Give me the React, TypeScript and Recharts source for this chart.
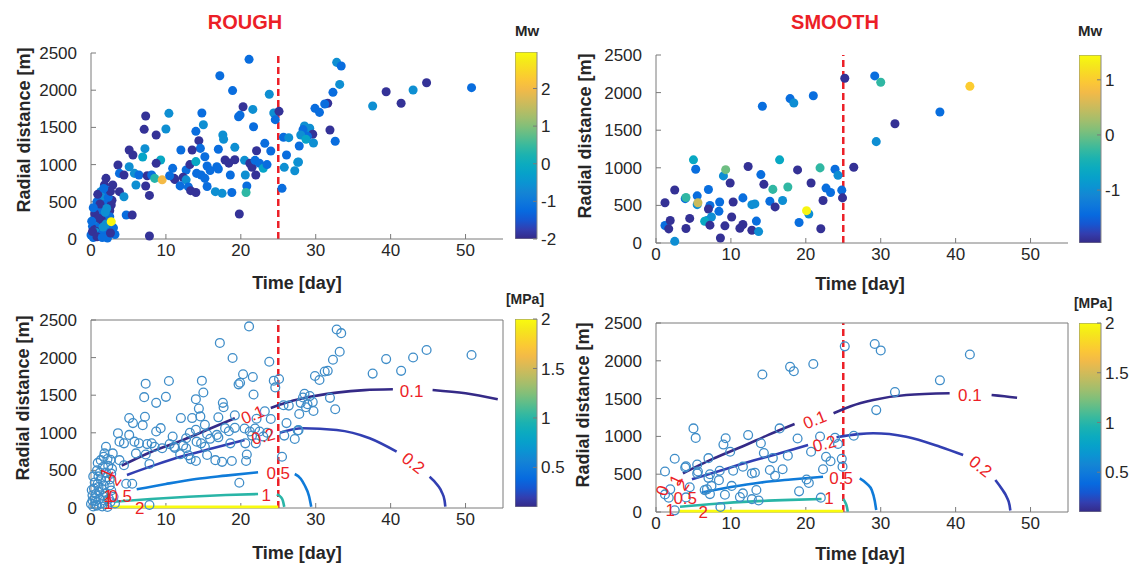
import React from "react";
import { ScatterChart, Scatter, XAxis, YAxis, ZAxis, ReferenceLine, Cell, BarChart, Bar } from "recharts";

const FONT = "'Liberation Sans', Arial, Helvetica, sans-serif";
const TEXT = "#262626";
const AXIS = "#7a7a7a";
const RED = "#ec1f27";
const CIRCLE = "#3f8dc8";

const timeTicks = [0, 10, 20, 30, 40, 50];
const distTicks = [0, 500, 1000, 1500, 2000, 2500];
const injectionStop = 25;

// [time day, radial distance m, Mw]
const roughEvents: [number, number, number][] = [
  [7.3, 1653, -1.9], [10.4, 1689, -0.6], [7.1, 1474, -1.9], [8.7, 1398, -1.9], [10.0, 1478, -0.6],
  [5.1, 1196, -1.9], [5.6, 1129, -1.9], [7.2, 1214, -0.6], [6.9, 1102, -0.2], [12.0, 1196, -1.2],
  [9.3, 1062, -0.1], [8.7, 1017, -1.9], [3.6, 995, -1.9], [5.1, 972, -0.6], [3.8, 882, -1.2],
  [4.4, 860, -1.9], [5.8, 882, -0.6], [6.4, 860, -1.2], [7.5, 850, -1.9], [8.1, 860, -1.2],
  [8.5, 815, 0.3], [9.5, 795, 2.0], [10.9, 950, -1.2], [12.7, 927, -1.2], [11.1, 815, -1.9],
  [12.3, 830, -1.9], [12.7, 795, -0.6], [2.0, 815, -1.9], [2.9, 726, -1.9], [1.8, 726, -1.9],
  [1.3, 636, -0.6], [2.2, 650, -1.2], [3.8, 636, -1.9], [6.0, 726, -0.6], [7.3, 712, -1.9],
  [7.8, 586, -1.9], [4.4, 568, -0.6], [4.7, 323, -1.2], [5.5, 323, -1.9], [1.6, 546, -0.6],
  [2.0, 470, -1.2], [2.7, 457, -1.9], [2.5, 380, -1.9], [1.3, 380, -1.2], [0.9, 323, -1.2],
  [1.7, 300, -1.2], [0.67, 188, -1.2], [0.2, 170, -1.2], [1.1, 121, -1.9], [1.8, 100, -1.2],
  [0.0, 54, -1.2], [0.7, 40, -1.2], [2.2, 13, -1.2], [7.8, 40, -1.9], [0.3, 20, -1.2],
  [0.5, 130, -1.9], [2.4, 121, -1.2], [1.1, 215, -1.2], [0.4, 260, -0.6], [1.0, 420, -1.2],
  [1.5, 250, -1.9], [2.0, 200, -0.6], [0.6, 90, -0.6], [1.4, 60, -1.2], [0.2, 100, -1.9],
  [2.5, 300, -1.2], [1.9, 360, -0.6], [0.8, 500, -1.2], [3.0, 150, -1.2], [2.8, 520, -1.9],
  [0.5, 340, -1.9], [1.2, 470, -1.9], [2.3, 560, -1.2], [0.9, 600, -1.9], [1.6, 160, -0.6],
  [0.3, 420, -1.2], [2.6, 640, -1.9], [1.0, 280, -1.9], [2.1, 410, -0.6], [0.8, 30, -1.9],
  [1.5, 20, -1.2], [3.2, 60, -1.2], [2.6, 80, -1.9], [0.1, 240, -1.2], [1.7, 680, -1.2],
  [2.7, 233, 2.9],
  [11.2, 800, -1.9], [11.9, 714, -1.2], [13.0, 700, -1.2], [13.3, 650, -1.9], [10.5, 850, -1.2],
  [13.2, 1000, -1.9],
  [21.1, 2415, -1.2], [17.2, 2195, -1.2], [18.9, 1995, -1.2], [23.8, 1945, -0.6], [20.3, 1778, -1.9],
  [21.6, 1742, -0.6], [19.7, 1644, -1.2], [19.9, 1665, -1.2], [21.7, 1509, -1.2], [24.4, 1693, -0.6],
  [25.1, 1716, -1.9], [24.6, 1604, -1.2], [14.8, 1693, -1.2], [15.0, 1536, -0.6], [14.0, 1447, -1.2],
  [14.4, 1322, -1.9], [14.6, 1218, -1.2], [13.5, 1196, -1.9], [17.6, 1398, -0.6], [17.7, 1340, -0.6],
  [17.0, 1206, -1.2], [19.2, 1232, -0.6], [22.1, 1187, -1.9], [23.2, 1286, -1.2], [24.0, 1183, -1.2],
  [15.2, 1106, -1.2], [14.0, 1040, -0.1], [15.5, 981, -1.2], [16.8, 972, -1.2], [17.9, 1062, -1.9],
  [18.4, 1020, -1.9], [19.2, 1066, -1.9], [20.5, 1057, -0.6], [21.2, 1017, -1.9], [21.5, 963, -1.9],
  [21.9, 1057, -1.2], [22.5, 1017, -1.2], [23.0, 950, -0.2], [23.5, 1000, -1.2], [14.1, 882, -1.2],
  [14.7, 860, -1.2], [15.2, 815, -1.2], [15.9, 920, -1.2], [17.0, 940, -1.2], [18.6, 860, -1.2],
  [20.6, 860, -0.6], [22.0, 860, -1.9], [15.5, 705, -1.2], [16.6, 636, -0.6], [17.5, 614, -0.6],
  [18.8, 625, -1.2], [20.8, 712, -1.2], [20.7, 625, 0.4], [14.0, 625, -1.9], [19.8, 336, -1.9],
  [25.5, 681, -1.2], [25.7, 1367, -1.2], [26.4, 1362, -0.6], [26.1, 1129, -1.2], [25.8, 963, -0.6],
  [27.2, 918, -0.6], [27.6, 1031, -0.3],
  [32.8, 2374, -0.6], [33.4, 2325, -1.2], [33.2, 2078, -0.6], [32.3, 1971, -1.2], [31.6, 1824, -1.9],
  [31.2, 1815, -1.2], [29.9, 1756, -1.2], [30.5, 1702, -1.2], [37.6, 1787, -0.6], [39.4, 1980, -1.9],
  [41.4, 1824, -1.9], [28.5, 1519, -0.6], [29.2, 1488, -0.6], [28.3, 1470, -1.2], [29.6, 1408, -1.9],
  [28.9, 1380, -1.2], [28.0, 1398, -0.6], [28.7, 1340, -0.2], [29.7, 1290, -0.6], [27.8, 1250, -1.2],
  [31.9, 1465, -1.9], [32.6, 1313, -1.2], [27.7, 1035, -0.6],
  [43.0, 2002, -0.6], [44.8, 2101, -1.9], [50.8, 2034, -1.2],
];

const smoothEvents: [number, number, number][] = [
  [25.2, 2191, -1.9], [14.2, 1819, -1.4], [17.9, 1920, -1.4], [18.4, 1862, -1.0], [21.0, 1958, -1.4],
  [5.0, 1106, -0.65], [5.3, 980, -1.4], [16.5, 1106, -0.65], [12.3, 1017, -1.9], [21.9, 999, -0.3],
  [23.9, 981, -1.4], [24.3, 900, -1.0], [18.9, 972, -1.9], [9.0, 892, -1.0], [9.3, 975, 0.0],
  [9.9, 797, -1.9], [14.0, 910, -1.4], [14.4, 780, -1.9], [15.6, 713, -0.3], [17.6, 745, -0.3],
  [20.7, 797, -1.9], [22.7, 730, -1.4], [23.3, 672, -1.4], [24.8, 703, -1.4], [24.9, 600, -1.9],
  [1.2, 536, -1.9], [2.5, 705, -1.9], [3.9, 590, -1.4], [4.0, 605, -0.3], [5.5, 627, -1.4],
  [5.5, 510, -1.0], [5.6, 536, 0.5], [7.0, 712, -1.4], [7.2, 500, -1.4], [7.0, 452, -1.9],
  [8.5, 546, -1.4], [8.4, 421, -1.4], [10.3, 546, -1.9], [11.6, 600, -1.4], [12.8, 510, -1.0],
  [13.2, 520, -1.0], [15.2, 556, -1.4], [15.9, 480, -1.9], [16.9, 565, -1.0], [20.4, 385, -1.0],
  [20.1, 430, 1.4], [19.1, 273, -1.4], [22.3, 565, -1.9], [22.0, 190, -1.9], [1.2, 233, -1.4],
  [1.7, 188, -1.9], [1.9, 300, -1.9], [2.5, 22, -1.0], [4.0, 193, -1.9], [4.5, 327, -1.9],
  [6.8, 300, -1.0], [7.4, 345, -1.0], [6.5, 290, -0.65], [7.2, 237, -1.9], [9.2, 228, -1.9],
  [8.6, 67, -1.9], [10.1, 345, -1.9], [11.2, 197, -1.9], [11.6, 246, -1.9], [12.8, 170, -1.9],
  [13.4, 291, -1.4], [13.7, 152, -1.0],
  [29.2, 2222, -1.4], [30.0, 2137, -0.3], [41.9, 2083, 1.0], [37.9, 1742, -1.4], [31.9, 1586, -1.9],
  [29.4, 1348, -1.0], [26.4, 1008, -1.9],
];

// colour ranges of the colour bars
const roughMwRange: [number, number] = [-2, 2.97];
const smoothMwRange: [number, number] = [-1.96, 1.45];
const pressureRange: [number, number] = [0.1, 2];
const roughMwTicks = [-2, -1, 0, 1, 2];
const smoothMwTicks = [-1, 0, 1];
const pressureTicks = [0.5, 1, 1.5, 2];

type Seg = [number, number][];

// pressure contour segments [time, distance], rough case
const roughP01: Seg[] = [
  [[4.1, 563], [8, 745], [12.3, 905], [16, 1060], [19.2, 1193]],
  [[24.0, 1330], [26, 1400], [28.3, 1459], [32.8, 1534], [36.5, 1568], [40.3, 1579]],
  [[45.6, 1570], [50, 1525], [54.3, 1446]],
];
const roughP02: Seg[] = [
  [[4.8, 440], [8.5, 570], [12.3, 690], [16.5, 800], [20.5, 904]],
  [[25.2, 1002], [28.3, 1060], [32.8, 1037], [37.2, 927], [40.8, 749]],
  [[45.2, 417], [46.3, 300], [46.8, 217], [47.2, 100], [47.3, 17]],
];
const roughP05: Seg[] = [
  [[6.1, 249], [10, 320], [14, 385], [18, 430], [22.3, 475]],
  [[27.2, 452], [28.0, 390], [28.5, 306], [29.1, 160], [29.4, 17]],
];
const roughP1: Seg[] = [
  [[3.0, 84], [8, 120], [13, 150], [18, 172], [22.3, 186]],
  [[24.8, 180], [25.3, 150], [25.6, 100], [25.8, 15]],
];
const roughP2: Seg[] = [[[2.8, 15], [10, 15], [18, 15], [25, 15]]];

// [time, distance, text, angle]
const roughLabels: [number, number, string, number][] = [
  [21.6, 1237, "0.1", -22], [23.0, 948, "0.2", -15], [25.0, 461, "0.5", 0], [23.4, 160, "1", 0],
  [42.8, 1550, "0.1", 0], [43.0, 594, "0.2", 38], [6.5, 0, "2", 0],
  [2.1, 465, "1", -65], [3.2, 372, "2", -55], [2.3, 150, "1", 0], [3.9, 150, "0.5", 0], [2.3, 60, "1", 0],
];

// smooth case
const smoothP01: Seg[] = [
  [[3.6, 512], [7.5, 700], [11.6, 870], [15, 1020], [18.5, 1164]],
  [[23.7, 1306], [26, 1400], [29.0, 1482], [33.4, 1548], [39.2, 1570]],
  [[44.8, 1548], [46.5, 1530], [48.2, 1512]],
];
const smoothP02: Seg[] = [
  [[4.8, 432], [9, 560], [13, 680], [17, 790], [20.3, 886]],
  [[24.1, 988], [27, 1030], [29.0, 1041], [33.4, 996], [37.9, 864], [41.0, 754]],
  [[45.3, 423], [46.2, 300], [46.8, 203], [47.2, 90], [47.3, 20]],
];
const smoothP05: Seg[] = [
  [[6.1, 256], [10, 330], [14, 390], [18, 430], [22.3, 467]],
  [[27.2, 446], [28.2, 370], [28.8, 291], [29.2, 150], [29.4, 26]],
];
const smoothP1: Seg[] = [
  [[3.2, 70], [8, 110], [13, 140], [18, 160], [22.1, 172]],
  [[25.0, 172], [25.3, 120], [25.5, 60], [25.6, 5]],
];
const smoothP2: Seg[] = [[[3.0, 12], [12, 12], [25, 12]]];

const smoothLabels: [number, number, string, number][] = [
  [21.2, 1217, "0.1", -22], [22.5, 900, "0.2", -15], [24.7, 446, "0.5", 0], [23.1, 172, "1", 0],
  [41.9, 1535, "0.1", 0], [43.3, 600, "0.2", 38], [6.3, 0, "2", 0],
  [2.7, 423, "1", -65], [3.6, 357, "2", -55], [0.9, 282, "0", -70], [3.9, 185, "0.5", 0], [1.9, 26, "1", 0],
];

// MATLAB parula colormap anchors
const parulaStops: [number, number, number][] = [
  [0.2081, 0.1663, 0.5292], [0.1959, 0.2645, 0.7279], [0.0117, 0.3875, 0.882], [0.0498, 0.4586, 0.8641],
  [0.0793, 0.52, 0.8312], [0.0343, 0.5966, 0.8199], [0.0228, 0.6535, 0.7768], [0.0843, 0.6928, 0.7062],
  [0.2178, 0.725, 0.6193], [0.3953, 0.7459, 0.5244], [0.5709, 0.7485, 0.4494], [0.7184, 0.7411, 0.3905],
  [0.8507, 0.7299, 0.336], [0.9739, 0.7314, 0.2666], [0.988, 0.8066, 0.1794], [0.9589, 0.8949, 0.1132],
  [0.9763, 0.9831, 0.0538],
];

function parula(v: number) {
  const x = Math.min(1, Math.max(0, v)) * (parulaStops.length - 1);
  const i = Math.min(parulaStops.length - 2, Math.floor(x));
  const f = x - i;
  const a = parulaStops[i];
  const b = parulaStops[i + 1];
  const c = a.map((ch, k) => Math.round((ch + (b[k] - ch) * f) * 255));
  return `rgb(${c[0]},${c[1]},${c[2]})`;
}

const tickStyle = { fill: TEXT, fontSize: 17, fontFamily: FONT };

type PanelProps = {
  left: number;
  top: number;
  w: number;
  h: number;
  events: [number, number, number][];
  range?: [number, number];
  contours?: { level: number; segs: Seg[] }[];
  labels?: [number, number, string, number][];
};

function Panel({ left, top, w, h, events, range, contours, labels }: PanelProps) {
  const box = !!contours;
  const pts = events.map(([t, r, mw]) => ({ t, r, mw }));
  return (
    <div style={{ position: "absolute", left: left - 60, top: top - 10 }}>
      <ScatterChart
        width={w + 72}
        height={h + 40}
        margin={box ? { top: 9, right: 11, bottom: 0, left: 0 } : { top: 10, right: 12, bottom: 0, left: 0 }}
      >
        <XAxis
          type="number"
          dataKey="t"
          domain={[0, 55]}
          ticks={timeTicks}
          interval={0}
          height={30}
          tickSize={-5}
          tickMargin={10}
          tick={tickStyle}
          stroke={AXIS}
        />
        <YAxis
          type="number"
          dataKey="r"
          domain={[0, 2500]}
          ticks={distTicks}
          interval={0}
          width={60}
          tickSize={-5}
          tickMargin={19}
          tick={tickStyle}
          stroke={AXIS}
        />
        <ZAxis range={[70, 70]} />
        {box && (
          <XAxis
            xAxisId="top"
            orientation="top"
            type="number"
            domain={[0, 55]}
            ticks={timeTicks}
            interval={0}
            height={1}
            tick={false}
            tickSize={-5}
            stroke={AXIS}
          />
        )}
        {box && (
          <YAxis
            yAxisId="right"
            orientation="right"
            type="number"
            domain={[0, 2500]}
            ticks={distTicks}
            interval={0}
            width={1}
            tick={false}
            tickSize={-5}
            stroke={AXIS}
          />
        )}
        {contours &&
          contours.flatMap((c) =>
            c.segs.map((seg, i) => (
              <Scatter
                key={`c${c.level}-${i}`}
                data={seg.map(([t, r]) => ({ t, r }))}
                line={{ stroke: parula((c.level - pressureRange[0]) / (pressureRange[1] - pressureRange[0])), strokeWidth: 2.6 }}
                lineJointType="monotoneX"
                shape={() => <g />}
                isAnimationActive={false}
              />
            ))
          )}
        {box ? (
          <Scatter
            data={pts}
            isAnimationActive={false}
            shape={(p: any) => <circle cx={p.cx} cy={p.cy} r={4.4} fill="none" stroke={CIRCLE} strokeWidth={1.3} />}
          />
        ) : (
          <Scatter data={pts} isAnimationActive={false} shape="circle">
            {pts.map((p, i) => (
              <Cell key={i} fill={parula((p.mw - range![0]) / (range![1] - range![0]))} />
            ))}
          </Scatter>
        )}
        {labels &&
          labels.map(([t, r, text, angle], i) => (
            <Scatter
              key={`l${i}`}
              data={[{ t, r }]}
              isAnimationActive={false}
              shape={(p: any) => (
                <text
                  x={p.cx}
                  y={p.cy}
                  transform={`rotate(${angle} ${p.cx} ${p.cy})`}
                  textAnchor="middle"
                  dominantBaseline="central"
                  fill={RED}
                  fontSize={17}
                  fontFamily={FONT}
                >
                  {text}
                </text>
              )}
            />
          ))}
        <ReferenceLine x={injectionStop} stroke={RED} strokeWidth={2.5} strokeDasharray="7 4" />
      </ScatterChart>
    </div>
  );
}

function Colorbar({ left, top, h, range, ticks, id }: { left: number; top: number; h: number; range: [number, number]; ticks: number[]; id: string }) {
  const data = [{ name: id, span: range }];
  const stops = Array.from({ length: 21 }, (_, i) => i / 20);
  return (
    <div style={{ position: "absolute", left, top: top - 10 }}>
      <BarChart width={22 + 44} height={h + 20} data={data} margin={{ top: 10, right: 0, bottom: 10, left: 0 }} barCategoryGap={0}>
        <defs>
          <linearGradient id={id} x1="0" y1="1" x2="0" y2="0">
            {stops.map((s) => (
              <stop key={s} offset={s} stopColor={parula(s)} />
            ))}
          </linearGradient>
        </defs>
        <XAxis dataKey="name" hide />
        <YAxis
          orientation="right"
          type="number"
          domain={range}
          ticks={ticks}
          interval={0}
          width={44}
          axisLine={false}
          tickSize={-4}
          tickMargin={8}
          tick={tickStyle}
          stroke={AXIS}
          allowDataOverflow
        />
        <Bar dataKey="span" fill={`url(#${id})`} stroke="#8a8a8a" strokeWidth={1} isAnimationActive={false} />
      </BarChart>
    </div>
  );
}

function Txt({ x, y, children, size = 18, color = TEXT, rotate = 0 }: { x: number; y: number; children: React.ReactNode; size?: number; color?: string; rotate?: number }) {
  return (
    <div
      style={{
        position: "absolute",
        left: x,
        top: y,
        transform: `translate(-50%, -50%) rotate(${rotate}deg)`,
        fontFamily: FONT,
        fontWeight: "bold",
        fontSize: size,
        color,
        whiteSpace: "nowrap",
        lineHeight: 1,
      }}
    >
      {children}
    </div>
  );
}

export default function App() {
  const roughContours = [
    { level: 0.1, segs: roughP01 },
    { level: 0.2, segs: roughP02 },
    { level: 0.5, segs: roughP05 },
    { level: 1, segs: roughP1 },
    { level: 2, segs: roughP2 },
  ];
  const smoothContours = [
    { level: 0.1, segs: smoothP01 },
    { level: 0.2, segs: smoothP02 },
    { level: 0.5, segs: smoothP05 },
    { level: 1, segs: smoothP1 },
    { level: 2, segs: smoothP2 },
  ];
  return (
    <div style={{ position: "absolute", left: 0, top: 0, width: 1135, height: 564, background: "#fff", overflow: "hidden" }}>
      <Txt x={245} y={22} size={20} color={RED}>ROUGH</Txt>
      <Txt x={835} y={22} size={20} color={RED}>SMOOTH</Txt>

      <Panel left={91} top={53} w={412} h={186} events={roughEvents} range={roughMwRange} />
      <Colorbar left={515} top={52} h={187} range={roughMwRange} ticks={roughMwTicks} id="cbRough" />
      <Txt x={527} y={30} size={15}>Mw</Txt>
      <Txt x={297} y={283}>Time [day]</Txt>
      <Txt x={24} y={130} rotate={-90}>Radial distance [m]</Txt>

      <Panel left={656} top={55} w={412} h={188} events={smoothEvents} range={smoothMwRange} />
      <Colorbar left={1079} top={55} h={188} range={smoothMwRange} ticks={smoothMwTicks} id="cbSmooth" />
      <Txt x={1090} y={30} size={15}>Mw</Txt>
      <Txt x={860} y={284}>Time [day]</Txt>
      <Txt x={585} y={136} rotate={-90}>Radial distance [m]</Txt>

      <Panel left={91} top={320} w={412} h={188} events={roughEvents} contours={roughContours} labels={roughLabels} />
      <Colorbar left={515} top={319} h={188} range={pressureRange} ticks={pressureTicks} id="cbRoughP" />
      <Txt x={525} y={299} size={14}>[MPa]</Txt>
      <Txt x={297} y={553}>Time [day]</Txt>
      <Txt x={23} y={398} rotate={-90}>Radial distance [m]</Txt>

      <Panel left={656} top={323} w={412} h={189} events={smoothEvents} contours={smoothContours} labels={smoothLabels} />
      <Colorbar left={1079} top={323} h={189} range={pressureRange} ticks={pressureTicks} id="cbSmoothP" />
      <Txt x={1093} y={303} size={14}>[MPa]</Txt>
      <Txt x={860} y={554}>Time [day]</Txt>
      <Txt x={583} y={405} rotate={-90}>Radial distance [m]</Txt>
    </div>
  );
}
